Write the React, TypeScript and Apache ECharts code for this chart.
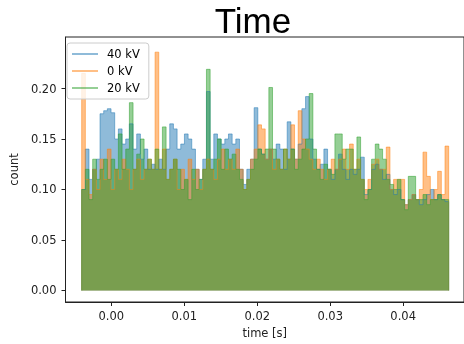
import React, { useEffect, useRef } from "react";
import * as echarts from "echarts";

const SERIES_NAMES = ["40 kV", "0 kV", "20 kV"];
const SERIES_COLORS = ["#1f77b4", "#ff7f0e", "#2ca02c"];
const LEGEND_COLORS = ["rgba(31,119,180,0.5)", "rgba(255,127,14,0.5)", "rgba(44,160,44,0.5)"];
const BIN_START = -0.00406;
const BIN_END = 0.04624;
const X_TICKS = [0, 0.01, 0.02, 0.03, 0.04];
const Y_TICKS = [0, 0.05, 0.1, 0.15, 0.2];

const kv40 = [
  0.10, 0.14, 0.11, 0.12, 0.13, 0.175, 0.178, 0.18, 0.176, 0.15,
  0.16, 0.145, 0.15, 0.165, 0.14, 0.155, 0.13, 0.14, 0.12, 0.125,
  0.12, 0.13, 0.12, 0.14, 0.165, 0.16, 0.14, 0.145, 0.155, 0.15,
  0.14, 0.12, 0.11, 0.13, 0.197, 0.13, 0.155, 0.15, 0.145, 0.15,
  0.155, 0.145, 0.15, 0.12, 0.105, 0.12, 0.13, 0.181, 0.14, 0.135,
  0.13, 0.14, 0.13, 0.145, 0.14, 0.12, 0.167, 0.14, 0.13, 0.145,
  0.18, 0.192, 0.15, 0.13, 0.12, 0.125, 0.14, 0.12, 0.11, 0.12,
  0.135, 0.12, 0.11, 0.12, 0.115, 0.12, 0.132, 0.095, 0.10, 0.12,
  0.125, 0.12, 0.11, 0.115, 0.10, 0.095, 0.10, 0.09, 0.085, 0.09,
  0.095, 0.09, 0.085, 0.09, 0.095, 0.10, 0.09, 0.095, 0.09, 0.088,
];

const kv0 = [
  0.215, 0.11, 0.095, 0.12, 0.10, 0.13, 0.11, 0.14, 0.10, 0.12,
  0.11, 0.13, 0.12, 0.10, 0.12, 0.13, 0.11, 0.12, 0.13, 0.12,
  0.236, 0.12, 0.14, 0.11, 0.12, 0.13, 0.10, 0.12, 0.11, 0.13,
  0.11, 0.12, 0.10, 0.12, 0.13, 0.12, 0.11, 0.13, 0.14, 0.12,
  0.13, 0.12, 0.14, 0.12, 0.10, 0.11, 0.13, 0.14, 0.164, 0.16,
  0.13, 0.14, 0.12, 0.13, 0.12, 0.14, 0.13, 0.164, 0.13, 0.178,
  0.15, 0.14, 0.13, 0.12, 0.13, 0.12, 0.11, 0.12, 0.13, 0.12,
  0.13, 0.14, 0.12, 0.145, 0.12, 0.13, 0.11, 0.10, 0.11, 0.125,
  0.13, 0.12, 0.12, 0.142, 0.10, 0.11, 0.11, 0.11, 0.085, 0.09,
  0.095, 0.09, 0.10, 0.137, 0.113, 0.09, 0.10, 0.118, 0.095, 0.143,
];

const kv20 = [
  0.10, 0.12, 0.09, 0.13, 0.11, 0.12, 0.13, 0.11, 0.13, 0.12,
  0.155, 0.12, 0.14, 0.186, 0.12, 0.135, 0.15, 0.12, 0.13, 0.12,
  0.14, 0.12, 0.162, 0.11, 0.12, 0.13, 0.12, 0.10, 0.11, 0.09,
  0.12, 0.10, 0.11, 0.12, 0.219, 0.12, 0.13, 0.15, 0.12, 0.14,
  0.13, 0.135, 0.12, 0.11, 0.10, 0.11, 0.12, 0.13, 0.14, 0.135,
  0.14, 0.201, 0.14, 0.13, 0.12, 0.14, 0.13, 0.14, 0.12, 0.13,
  0.14, 0.15, 0.195, 0.14, 0.12, 0.11, 0.125, 0.12, 0.115, 0.155,
  0.155, 0.13, 0.14, 0.14, 0.12, 0.152, 0.11, 0.09, 0.10, 0.13,
  0.145, 0.14, 0.13, 0.11, 0.105, 0.10, 0.11, 0.09, 0.08, 0.113,
  0.113, 0.09, 0.09, 0.095, 0.085, 0.09, 0.09, 0.095, 0.09, 0.09,
];

const SERIES_VALUES = [kv40, kv0, kv20];

function stepData(vals: number[]): number[][] {
  const n = vals.length;
  const w = (BIN_END - BIN_START) / n;
  const pts: number[][] = [[BIN_START, 0]];
  vals.forEach((v, i) => pts.push([BIN_START + i * w, v]));
  pts.push([BIN_END, vals[n - 1]]);
  pts.push([BIN_END, 0]);
  return pts;
}

const FONT = "DejaVu Sans";
const AXIS_COLOR = "#222";

export default function App() {
  const ref = useRef<HTMLDivElement>(null);
  useEffect(() => {
    if (!ref.current) return;
    const chart = echarts.init(ref.current, undefined, { renderer: "svg" });
    chart.setOption({
      animation: false,
      graphic: [
        {
          type: "text",
          x: 253,
          y: 3,
          style: {
            text: "Time",
            textAlign: "center",
            textVerticalAlign: "top",
            fontFamily: "Liberation Sans",
            fontSize: 35,
            fill: "#000",
          },
        },
      ],
      legend: {
        data: SERIES_NAMES.map((name, k) => ({
          name,
          itemStyle: { color: LEGEND_COLORS[k] },
        })),
        orient: "vertical",
        left: 67,
        top: 43,
        icon: "rect",
        itemWidth: 26,
        itemHeight: 2,
        itemGap: 5,
        padding: [5, 9, 5, 5],
        backgroundColor: "rgba(255,255,255,0.8)",
        borderColor: "#ccc",
        borderWidth: 1,
        borderRadius: 3,
        textStyle: { fontFamily: FONT, fontSize: 11.5, color: "#000", padding: [0, 0, 0, 4] },
      },
      grid: {
        left: 63,
        top: 37,
        bottom: 42,
        right: -1,
        show: true,
        borderColor: AXIS_COLOR,
        borderWidth: 1,
        backgroundColor: "transparent",
      },
      xAxis: {
        type: "value",
        min: -0.006277,
        max: 0.04834,
        name: "time [s]",
        nameLocation: "middle",
        nameGap: 22,
        nameTextStyle: { fontFamily: FONT, fontSize: 11.5, color: AXIS_COLOR },
        axisLine: { show: true, onZero: false, lineStyle: { color: AXIS_COLOR, width: 1 } },
        axisTick: { show: true, length: 4, customValues: X_TICKS, lineStyle: { color: AXIS_COLOR } },
        axisLabel: {
          customValues: X_TICKS,
          margin: 8,
          formatter: (v: number) => v.toFixed(2),
          fontFamily: FONT,
          fontSize: 11.5,
          color: AXIS_COLOR,
        },
        splitLine: { show: false },
      },
      yAxis: {
        type: "value",
        min: -0.0114,
        max: 0.251,
        name: "count",
        nameLocation: "middle",
        nameRotate: 90,
        nameGap: 44,
        nameTextStyle: { fontFamily: FONT, fontSize: 11.5, color: AXIS_COLOR },
        axisLine: { show: true, onZero: false, lineStyle: { color: AXIS_COLOR, width: 1 } },
        axisTick: { show: true, length: 4, customValues: Y_TICKS, lineStyle: { color: AXIS_COLOR } },
        axisLabel: {
          customValues: Y_TICKS,
          margin: 9,
          formatter: (v: number) => v.toFixed(2),
          fontFamily: FONT,
          fontSize: 11.5,
          color: AXIS_COLOR,
        },
        splitLine: { show: false },
      },
      series: SERIES_NAMES.map((name, k) => ({
        name,
        type: "line",
        step: "end",
        symbol: "none",
        showSymbol: false,
        data: stepData(SERIES_VALUES[k]),
        itemStyle: { color: SERIES_COLORS[k] },
        lineStyle: { color: SERIES_COLORS[k], width: 1, opacity: 0.5 },
        areaStyle: { color: SERIES_COLORS[k], opacity: 0.5 },
      })),
    });
    return () => chart.dispose();
  }, []);
  return (
    <div
      ref={ref}
      style={{ position: "fixed", left: 0, top: 0, width: 464, height: 344 }}
    />
  );
}
